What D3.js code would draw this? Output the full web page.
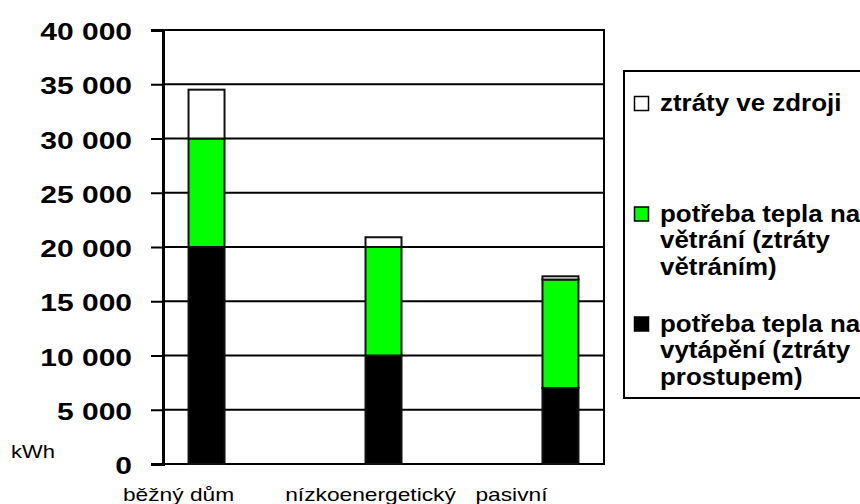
<!DOCTYPE html>
<html lang="cs">
<head>
<meta charset="utf-8">
<script src="https://cdn.jsdelivr.net/npm/d3@7"></script>
<style>
  html, body { margin: 0; padding: 0; background: #fff; }
  svg { display: block; font-family: "Liberation Sans", Arial, sans-serif; }
</style>
</head>
<body>
<svg id="chart" width="860" height="504"></svg>
<script>
// Roční potřeba tepla podle typu domu (kWh)
const categories = ["běžný dům", "nízkoenergetický", "pasivní"];
const heatingDemand = [20000, 10000, 7000];      // potřeba tepla na vytápění
const ventilationDemand = [10000, 10000, 10000]; // potřeba tepla na větrání
const sourceLosses = [4500, 900, 300];           // ztráty ve zdroji
const yTickValues = [0, 5000, 10000, 15000, 20000, 25000, 30000, 35000, 40000];
const seriesKeys = ["heating", "ventilation", "source"];
const seriesColors = ["#000000", "#00ff00", "#ffffff"];
const legendLabels = [
  ["ztráty ve zdroji"],
  ["potřeba tepla na", "větrání (ztráty", "větráním)"],
  ["potřeba tepla na", "vytápění (ztráty", "prostupem)"]
];
const unitLabel = "kWh";

const rows = categories.map((c, i) => ({
  category: c,
  heating: heatingDemand[i],
  ventilation: ventilationDemand[i],
  source: sourceLosses[i]
}));

const svg = d3.select("#chart");
const plot = { left: 163, right: 604, top: 30, bottom: 464 };

const x = d3.scalePoint()
  .domain(categories)
  .range([plot.left, plot.right])
  .padding(0.246);
const barWidth = 36;

const y = d3.scaleLinear()
  .domain([0, 40000])
  .range([plot.bottom, plot.top]);

const color = d3.scaleOrdinal().domain(seriesKeys).range(seriesColors);

const cs = d3.formatLocale({ decimal: ",", thousands: " ", grouping: [3], currency: ["", " Kč"] });
const fmt = cs.format(",.0f");

// horizontal grid lines (include the 0 and 40 000 lines)
svg.append("g")
  .selectAll("line")
  .data(yTickValues)
  .join("line")
  .attr("x1", plot.left)
  .attr("x2", plot.right)
  .attr("y1", d => y(d))
  .attr("y2", d => y(d))
  .attr("stroke", "#000")
  .attr("stroke-width", 2);

// right frame edge
svg.append("line")
  .attr("x1", plot.right).attr("x2", plot.right)
  .attr("y1", y(40000) - 1).attr("y2", y(0) + 1)
  .attr("stroke", "#000").attr("stroke-width", 2);

// stacked bars
const stacked = d3.stack().keys(seriesKeys)(rows);
svg.append("g")
  .selectAll("g")
  .data(stacked)
  .join("g")
  .attr("fill", d => color(d.key))
  .selectAll("rect")
  .data(d => d)
  .join("rect")
  .attr("x", d => x(d.data.category) - barWidth / 2)
  .attr("y", d => y(d[1]))
  .attr("width", barWidth)
  .attr("height", d => y(d[0]) - y(d[1]))
  .attr("stroke", "#111")
  .attr("stroke-width", 2);

// y axis
const yAxis = svg.append("g")
  .attr("transform", `translate(${plot.left},0)`)
  .call(d3.axisLeft(y).tickValues(yTickValues).tickSize(12).tickFormat(fmt));
yAxis.select(".domain").attr("stroke", "#000").attr("stroke-width", 3);
yAxis.selectAll(".tick line").attr("stroke", "#000").attr("stroke-width", 2);
yAxis.selectAll(".tick text")
  .attr("x", null)
  .attr("dy", "0.4em")
  .attr("transform", "translate(-31,0) scale(1.25,1)")
  .attr("text-anchor", "end")
  .attr("fill", "#000")
  .style("font-family", "'Liberation Sans', Arial, sans-serif")
  .style("font-size", "24px")
  .style("font-weight", "bold");

// unit label
svg.append("text")
  .attr("transform", "translate(11,458) scale(1.22,1)")
  .style("font-size", "18px")
  .attr("fill", "#000")
  .text(unitLabel);

// category labels below the axis
const labelNudge = [-28, -13, -49];
svg.append("g")
  .selectAll("text")
  .data(categories)
  .join("text")
  .attr("transform", (d, i) => `translate(${x(d) + labelNudge[i]},501) scale(1.3,1)`)
  .attr("text-anchor", "middle")
  .style("font-size", "17.5px")
  .attr("fill", "#000")
  .text(d => d);

// legend
const legend = svg.append("g");
legend.append("rect")
  .attr("x", 624).attr("y", 71)
  .attr("width", 280).attr("height", 327)
  .attr("fill", "#fff").attr("stroke", "#000").attr("stroke-width", 2);

const legendOrder = ["source", "ventilation", "heating"];
const legendTops = [111, 221.5, 331.5];
legendOrder.forEach((key, i) => {
  const base = legendTops[i];
  legend.append("rect")
    .attr("x", 634.5).attr("y", base - 14.5)
    .attr("width", 14).attr("height", 14)
    .attr("fill", color(key))
    .attr("stroke", "#000").attr("stroke-width", 1.5);
  const t = legend.append("text")
    .attr("transform", `translate(660,${base}) scale(1.08,1)`)
    .style("font-size", "24px")
    .style("font-weight", "bold")
    .attr("fill", "#000");
  legendLabels[i].forEach((line, j) => {
    t.append("tspan").attr("x", 0).attr("y", j * 26.8).text(line);
  });
});
</script>
</body>
</html>
